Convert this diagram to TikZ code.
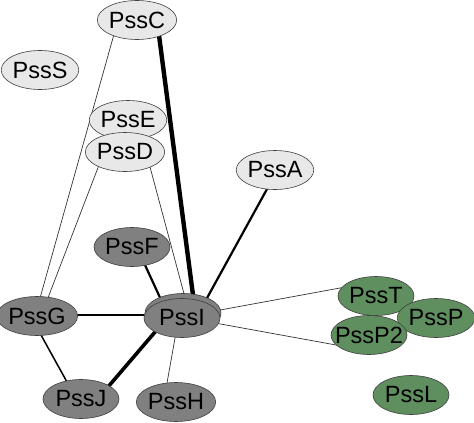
\documentclass[tikz,border=0pt]{standalone}
\usepackage{fontspec}
\setmainfont{Liberation Sans}
\usetikzlibrary{shapes.geometric}
\pgfdeclarelayer{background}
\pgfsetlayers{background,main}
\definecolor{lightn}{HTML}{E8E8E8}
\definecolor{darkn}{HTML}{808080}
\definecolor{greenn}{HTML}{5F8F5F}
\tikzset{
  nd/.style={ellipse, draw=black!75, line width=0.6pt, minimum width=76pt, minimum height=39pt, inner sep=0pt,
    font=\fontsize{23.5}{26}\selectfont},
  lt/.style={nd, fill=lightn},
  dk/.style={nd, fill=darkn},
  gr/.style={nd, fill=greenn},
  thin edge/.style={draw=black!80, line width=0.7pt},
  mid edge/.style={draw=black, line width=2.2pt},
  thick edge/.style={draw=black, line width=3.6pt},
  heavy edge/.style={draw=black, line width=4.4pt},
}
\begin{document}
\begin{tikzpicture}[x=1pt,y=-1pt]
\useasboundingbox (0,0) rectangle (474,423);
\node[lt] (PssC) at (137,20) {PssC};
\node[lt] (PssS) at (40,70) {PssS};
\node[lt] (PssE) at (128,120) {PssE};
\node[lt] (PssD) at (125,152) {PssD};
\node[lt] (PssA) at (275,170) {PssA};
\node[dk] (PssF) at (132,247) {PssF};
\node[dk] (PssG) at (37,316) {PssG};
\node[dk] (PssIb) at (183,313) {};
\node[dk] (PssI) at (182,318) {PssI};
\node[dk] (PssJ) at (81,399) {PssJ};
\node[dk] (PssH) at (176,402) {PssH};
\node[gr] (PssT) at (376,296) {PssT};
\node[gr] (PssP) at (436,318) {PssP};
\node[gr] (PssP2) at (369,335) {\makebox[44pt]{PssP2}};
\node[gr] (PssL) at (411,395) {PssL};
\begin{pgfonlayer}{background}
\draw[thin edge] ([shift={(-19,0)}]PssC.center) -- ([shift={(-2,0)}]PssG.center);
\draw[thin edge] ([shift={(-21,0)}]PssD.center) -- ([shift={(4,0)}]PssG.center);
\draw[thin edge] ([shift={(21,0)}]PssD.center) -- ([shift={(8.5,0)}]PssI.center);
\draw[heavy edge] ([shift={(20,0)}]PssC.center) -- ([shift={(14,0)}]PssI.center);
\draw[mid edge] ([shift={(2.5,0)}]PssA.center) -- ([shift={(14,0)}]PssI.center);
\draw[mid edge] ([shift={(4.7,0)}]PssF.center) -- ([shift={(-12.6,0)}]PssI.center);
\draw[mid edge] ([shift={(0,-1)}]PssG.center) -- ([shift={(0,-3)}]PssI.center);
\draw[draw=black, line width=1.5pt] ([shift={(-6.5,0)}]PssG.center) -- ([shift={(-4.6,0)}]PssJ.center);
\draw[thick edge] ([shift={(16.7,0)}]PssJ.center) -- ([shift={(-15,0)}]PssI.center);
\draw[thin edge] ([shift={(-12.4,0)}]PssH.center) -- ([shift={(-3.4,0)}]PssI.center);
\draw[thin edge] ([shift={(0,-1)}]PssI.center) -- ([shift={(0,-14.6)}]PssT.center);
\draw[thin edge] ([shift={(0,-1)}]PssI.center) -- ([shift={(0,16)}]PssP2.center);
\end{pgfonlayer}
\end{tikzpicture}
\end{document}
